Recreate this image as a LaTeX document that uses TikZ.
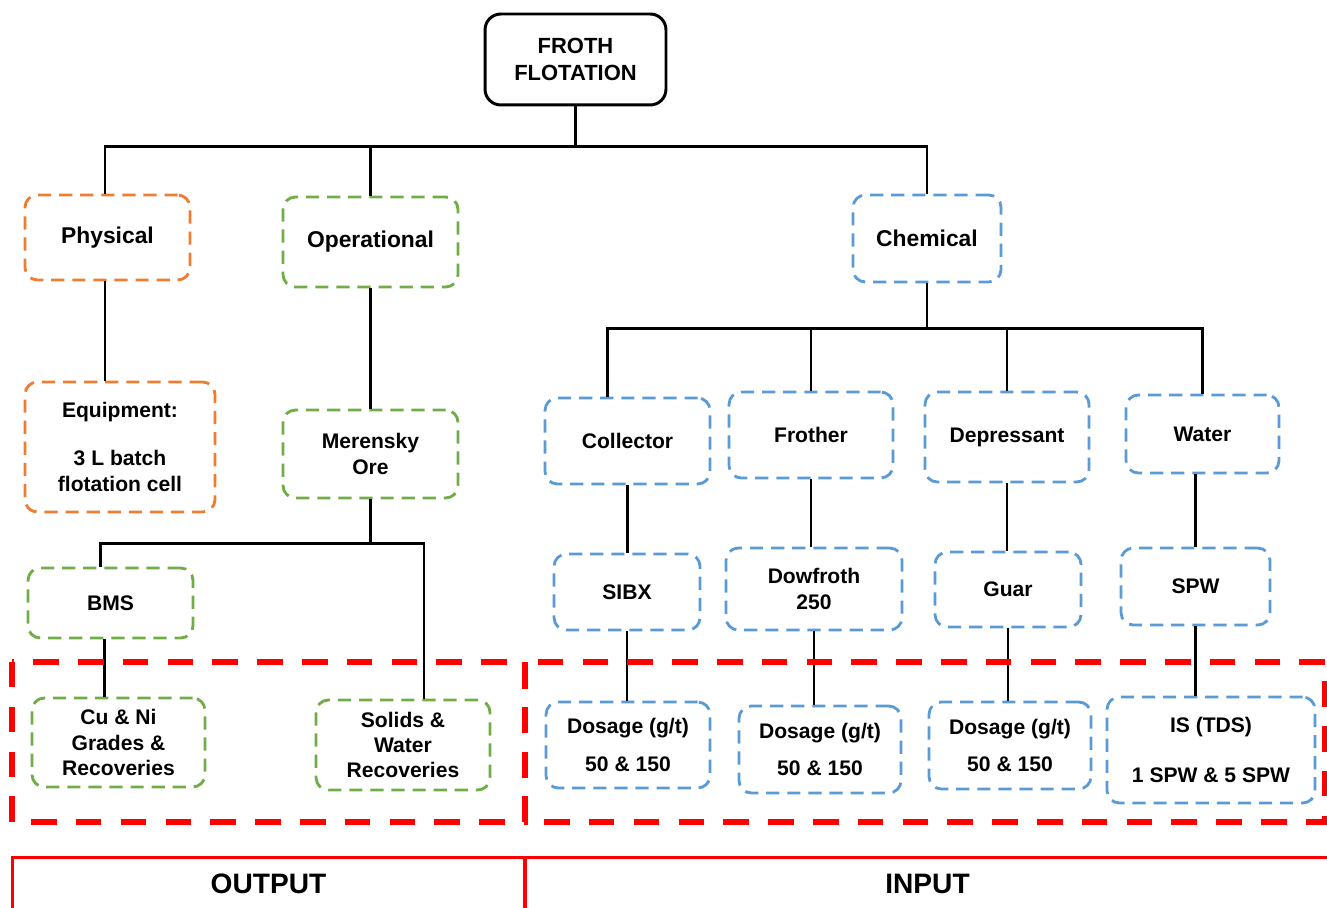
\documentclass[tikz,border=0pt]{standalone}
\usepackage{fontspec}
\setmainfont{Liberation Sans}
\definecolor{physorange}{RGB}{237,125,49}
\definecolor{opgreen}{RGB}{112,173,71}
\definecolor{chemblue}{RGB}{91,155,213}
\tikzset{
  tbox/.style={rectangle, rounded corners=7pt, line width=1.6pt, dash pattern=on 7.5pt off 4.5pt, align=center, inner sep=2pt, font=\bfseries\fontsize{12}{14.4}\selectfont},
  big/.style={font=\bfseries\fontsize{13}{15.6}\selectfont},
  physbox/.style={tbox, draw=physorange},
  opbox/.style={tbox, draw=opgreen},
  chembox/.style={tbox, draw=chemblue},
  link/.style={line width=1.5pt},
  zone/.style={draw=red, line width=3.4pt, dash pattern=on 14.5pt off 11pt},
  tag/.style={rectangle, draw=red, line width=1.7pt, font=\bfseries\fontsize{16}{19}\selectfont}
}
\begin{document}
\begin{tikzpicture}[x=0.02cm, y=-0.02cm]

\useasboundingbox (0,0) rectangle (1327,908);
\clip (0,0) rectangle (1327,908);

\draw (575.5,59.5) node (froth) [rectangle, draw, rounded corners=9pt, line width=1.7pt, minimum width=3.62cm, minimum height=1.82cm, align=center, font=\bfseries\fontsize{12.5}{15.3}\selectfont] {FROTH\\FLOTATION};

\draw (107.5,237.5) node (phys) [physbox, big, minimum width=3.3cm, minimum height=1.7cm] {Physical};
\draw (370.5,242) node (oper) [opbox, big, minimum width=3.5cm, minimum height=1.8cm] {Operational};
\draw (927,238.5) node (chem) [chembox, big, minimum width=2.96cm, minimum height=1.74cm] {Chemical};

\draw (120,447) node (equip) [physbox, minimum width=3.8cm, minimum height=2.6cm] {Equipment:\\[13pt]3 L batch\\flotation cell};
\draw (370.5,454) node (mer) [opbox, minimum width=3.5cm, minimum height=1.76cm] {Merensky\\Ore};
\draw (110.5,603) node (bms) [opbox, minimum width=3.3cm, minimum height=1.4cm] {BMS};
\draw (118.5,742.5) node (cuni) [opbox, minimum width=3.46cm, minimum height=1.78cm] {Cu \& Ni\\Grades \&\\Recoveries};
\draw (403,745) node (solids) [opbox, minimum width=3.48cm, minimum height=1.8cm] {Solids \&\\Water\\Recoveries};

\draw (627.5,441) node (coll) [chembox, minimum width=3.3cm, minimum height=1.72cm] {Collector};
\draw (811,435) node (frother) [chembox, minimum width=3.28cm, minimum height=1.72cm] {Frother};
\draw (1007,437) node (depr) [chembox, minimum width=3.28cm, minimum height=1.8cm] {Depressant};
\draw (1202.5,434) node (water) [chembox, minimum width=3.06cm, minimum height=1.56cm] {Water};

\draw (627,592) node (sibx) [chembox, minimum width=2.92cm, minimum height=1.52cm] {SIBX};
\draw (814,589) node (dow) [chembox, minimum width=3.52cm, minimum height=1.64cm] {Dowfroth\\250};
\draw (1008,589.5) node (guar) [chembox, minimum width=2.92cm, minimum height=1.5cm] {Guar};
\draw (1195.5,586.5) node (spw) [chembox, minimum width=2.98cm, minimum height=1.54cm] {SPW};

\draw (628,745) node (dos1) [chembox, minimum width=3.28cm, minimum height=1.72cm] {Dosage (g/t)\\[7pt]50 \& 150};
\draw (820,749.5) node (dos2) [chembox, minimum width=3.24cm, minimum height=1.74cm] {Dosage (g/t)\\[7pt]50 \& 150};
\draw (1010,745.5) node (dos3) [chembox, minimum width=3.24cm, minimum height=1.74cm] {Dosage (g/t)\\[7pt]50 \& 150};
\draw (1211,750) node (istds) [chembox, minimum width=4.16cm, minimum height=2.12cm] {IS (TDS)\\[14pt]1 SPW \& 5 SPW};

\path (froth.south) -- +(0,40) coordinate(hub);
\draw [link] (froth.south) -- (hub);
\draw [link] ([xshift=-0.05cm]phys.north) |- (hub) -| (chem.north);
\draw [link] (oper.north) -- (oper.north |- hub);
\draw [link] ([xshift=-0.05cm]phys.south) -- ([xshift=-0.05cm]phys.south |- equip.north);
\draw [link] (oper.south) -- (mer.north);

\path (mer.south) -- +(0,44) coordinate(merhub);
\draw [link] (mer.south) -- (merhub);
\draw [link] ([xshift=-0.2cm]bms.north) |- (merhub) -| ([xshift=0.42cm]solids.north);
\draw [link] ([xshift=-0.12cm]bms.south) -- ([xshift=-0.12cm]bms.south |- cuni.north);

\path (chem.south) -- +(0,45) coordinate(chemhub);
\draw [link] (chem.south) -- (chemhub);
\draw [link] ([xshift=-0.4cm]coll.north) |- (chemhub) -| (water.north);
\draw [link] (frother.north) -- (frother.north |- chemhub);
\draw [link] (depr.north) -- (depr.north |- chemhub);

\draw [link] (coll.south) -- (coll.south |- sibx.north);
\draw [link] (frother.south) -- (frother.south |- dow.north);
\draw [link] (depr.south) -- (depr.south |- guar.north);
\draw [link] (spw.north) -- (spw.north |- water.south);

\draw [link] (sibx.south) -- (sibx.south |- dos1.north);
\draw [link] (dow.south) -- (dow.south |- dos2.north);
\draw [link] (guar.south) -- (guar.south |- dos3.north);
\draw [link] (spw.south) -- (spw.south |- istds.north);

\draw [zone] (12,662) rectangle (525,822);
\draw [zone] (525,662) rectangle (1325,822);

\draw (268.5,884) node (outtag) [tag, minimum width=10.26cm, minimum height=1.08cm] {OUTPUT};
\draw (927.5,884) node (intag) [tag, minimum width=16.1cm, minimum height=1.08cm] {INPUT};

\end{tikzpicture}
\end{document}
